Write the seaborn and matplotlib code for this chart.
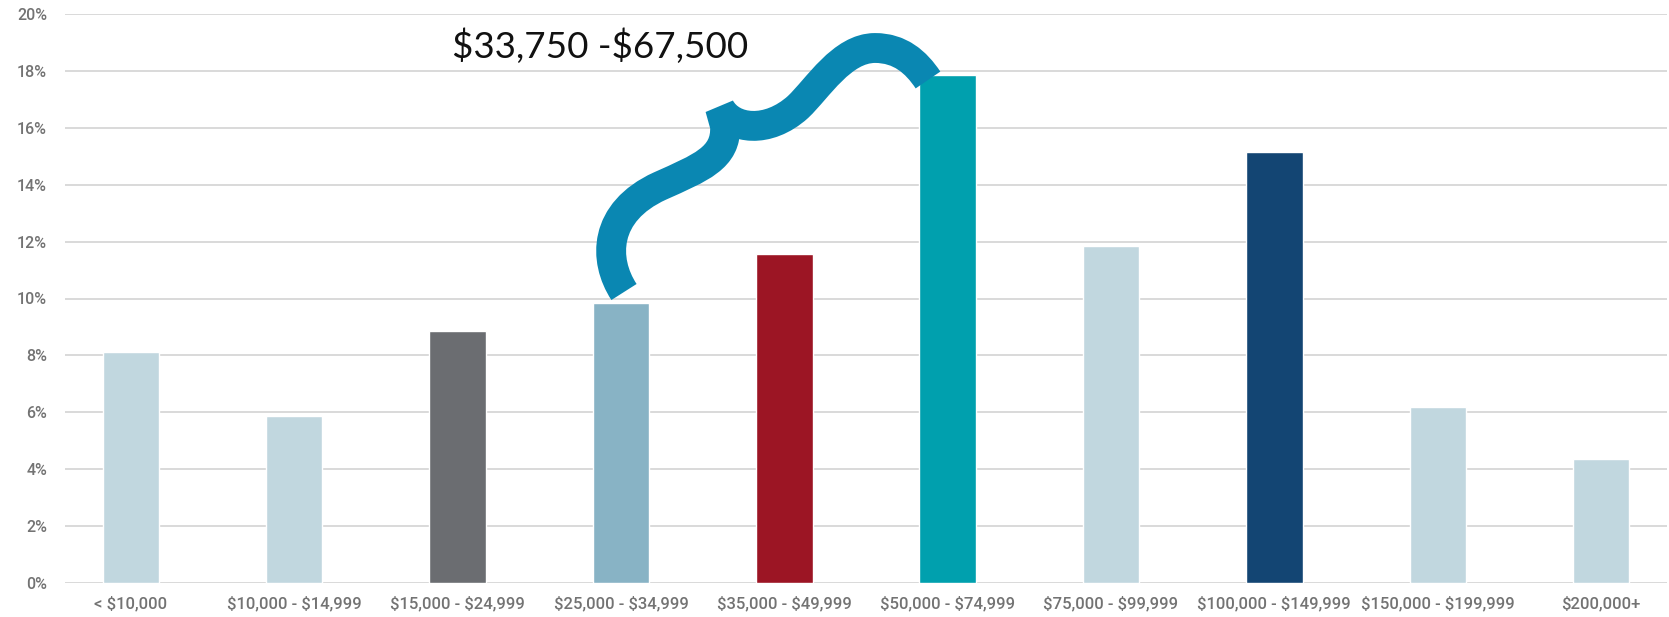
import matplotlib
matplotlib.use("Agg")
import matplotlib.pyplot as plt
import matplotlib.font_manager as fm
from matplotlib.path import Path
from matplotlib.patches import PathPatch
import matplotlib.transforms as mtransforms
import seaborn as sns
import pandas as pd

categories = ["< $10,000", "$10,000 - $14,999", "$15,000 - $24,999", "$25,000 - $34,999",
              "$35,000 - $49,999", "$50,000 - $74,999", "$75,000 - $99,999",
              "$100,000 - $149,999", "$150,000 - $199,999", "$200,000+"]
values = [8.12, 5.88, 8.86, 9.85, 11.56, 17.86, 11.84, 15.15, 6.17, 4.35]
bar_colors = ["#c1d7df", "#c1d7df", "#6b6d71", "#88b3c5", "#9c1524",
              "#00a0ae", "#c1d7df", "#134573", "#c1d7df", "#c1d7df"]
yticks = [0, 2, 4, 6, 8, 10, 12, 14, 16, 18, 20]
ytick_labels = [f"{t}%" for t in yticks]
annotation_text = "$33,750 -$67,500"

sns.set_theme(style="white")
available = {f.name for f in fm.fontManager.ttflist}
tick_font = "Liberation Sans Narrow" if "Liberation Sans Narrow" in available else "Roboto"
plt.rcParams["font.family"] = [tick_font, "DejaVu Sans"]
plt.rcParams["text.parse_math"] = False

W, H = 1669, 617
fig = plt.figure(figsize=(W / 100, H / 100), dpi=100)
ax = fig.add_axes([65 / W, 1 - 583 / H, (1667 - 65) / W, (583 - 14) / H])

df = pd.DataFrame({"cat": categories, "val": values})
sns.barplot(data=df, x="cat", y="val", hue="cat", palette=bar_colors,
            legend=False, width=0.345, saturation=1, ax=ax, zorder=3)

ax.set_xlim(-0.404, 9.404)
ax.set_ylim(0, 20)
ax.set_yticks(yticks)
ax.set_yticklabels(ytick_labels)
ax.set_xlabel("")
ax.set_ylabel("")
ax.grid(axis="y", color="#d9d9d9", linewidth=1.4, zorder=0)
ax.set_axisbelow(True)
for s in ax.spines.values():
    s.set_visible(False)
ax.tick_params(axis="both", length=0, colors="#737373")
ax.tick_params(axis="x", pad=9, labelsize=12)
ax.tick_params(axis="y", pad=13, labelsize=11.5)
for lab in ax.get_xticklabels() + ax.get_yticklabels():
    lab.set_fontweight("medium")

# Curly brace annotation (figure pixel coordinates, y downwards)
px = mtransforms.Affine2D().scale(1 / W, -1 / H).translate(0, 1) + fig.transFigure
verts = [
    (624, 292), (603, 260), (603, 212), (660, 186),
    (700, 168), (727, 158), (725, 126),
    (720, 108),
    (732, 130), (768, 134), (798, 107),
    (818, 88), (842, 48), (875, 48),
    (900, 48), (916, 62), (928, 80),
]
codes = [Path.MOVETO, Path.CURVE4, Path.CURVE4, Path.CURVE4,
         Path.CURVE4, Path.CURVE4, Path.CURVE4,
         Path.LINETO,
         Path.CURVE4, Path.CURVE4, Path.CURVE4,
         Path.CURVE4, Path.CURVE4, Path.CURVE4,
         Path.CURVE4, Path.CURVE4, Path.CURVE4]
brace = PathPatch(Path(verts, codes), facecolor="none", edgecolor="#0a87b2",
                  linewidth=21.5, capstyle="butt", joinstyle="bevel",
                  transform=px, zorder=5)
fig.patches.append(brace)

fig.text(452 / W, 1 - 58 / H, annotation_text, fontsize=26.5, color="#111111",
         family=["Lato", "DejaVu Sans"], fontweight="normal",
         ha="left", va="baseline")

fig.savefig("out.png", dpi=100, facecolor="white")
